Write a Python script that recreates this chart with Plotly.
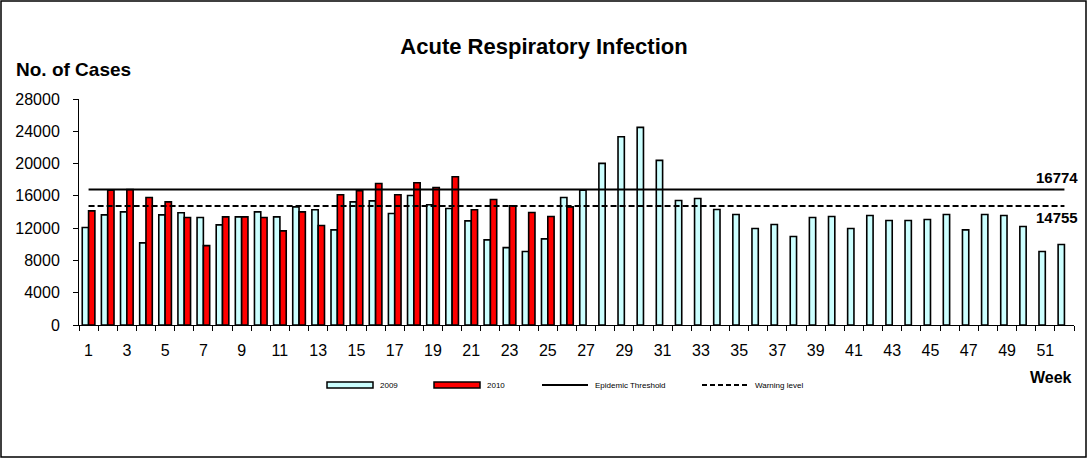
import plotly.graph_objects as go

weeks = list(range(1, 53))

cases_2009 = [
    12080, 13650, 14020, 10170, 13650, 13900, 13320, 12410, 13400, 14020,
    13400, 14640, 14270, 11790, 15260, 15380, 13810, 16050, 14890, 14430,
    12900, 10550, 9590, 9100, 10670, 15800, 16710, 20020, 23330, 24480,
    20390, 15430, 15670, 14310, 13690, 11950, 12450, 10960, 13320, 13440,
    11950, 13560, 12940, 12940, 13070, 13690, 11790, 13690, 13560, 12200,
    9100, 9970,
]

cases_2010 = [
    14140, 16710, 16790, 15800, 15260, 13320, 9840, 13400, 13400, 13320,
    11660, 14020, 12320, 16130, 16630, 17540, 16130, 17620, 17040, 18360,
    14270, 15550, 14760, 13940, 13440, 14640,
]

epidemic_threshold = 16774
warning_level = 14755

y_ticks = [0, 4000, 8000, 12000, 16000, 20000, 24000, 28000]
x_ticks = weeks[::2]

FONT = "Liberation Sans, Arial, sans-serif"

# plot area in pixels: x 79..1074, y 99..325
L, R, T, B = 79, 1074, 99, 325


def px(x):
    return (x - L) / (R - L)


def py(y):
    return (B - y) / (B - T)


fig = go.Figure()

fig.add_trace(go.Bar(
    x=weeks,
    y=cases_2009,
    name="2009",
    marker=dict(color="#CCFFFF", line=dict(color="black", width=1.6)),
))
fig.add_trace(go.Bar(
    x=weeks,
    y=cases_2010 + [None] * (len(weeks) - len(cases_2010)),
    name="2010",
    marker=dict(color="#FF0000", line=dict(color="black", width=1.6)),
))
fig.add_trace(go.Scatter(
    x=weeks,
    y=[epidemic_threshold] * len(weeks),
    mode="lines",
    name="Epidemic Threshold",
    line=dict(color="black", width=2),
))
fig.add_trace(go.Scatter(
    x=weeks,
    y=[warning_level] * len(weeks),
    mode="lines",
    name="Warning level",
    line=dict(color="black", width=2, dash="6px,3px"),
))

# legend drawn by hand, Excel style (wide swatches)
legend_items = [
    ("2009", "bar", "#CCFFFF", 327),
    ("2010", "bar", "#FF0000", 434),
    ("Epidemic Threshold", "solid", None, 542),
    ("Warning level", "dash", None, 702),
]
legend_y = 385
shapes = []
annotations = []
for label, kind, color, x0 in legend_items:
    if kind == "bar":
        shapes.append(dict(
            type="rect", xref="paper", yref="paper",
            x0=px(x0), x1=px(x0 + 46),
            y0=py(legend_y + 3), y1=py(legend_y - 3),
            line=dict(color="black", width=1.5), fillcolor=color,
        ))
    else:
        shapes.append(dict(
            type="line", xref="paper", yref="paper",
            x0=px(x0), x1=px(x0 + 46),
            y0=py(legend_y), y1=py(legend_y),
            line=dict(color="black", width=2,
                      dash="solid" if kind == "solid" else "5px,3px"),
        ))
    annotations.append(dict(
        text=label, xref="paper", yref="paper",
        x=px(x0 + 51), y=py(legend_y),
        xanchor="left", yanchor="middle",
        showarrow=False, font=dict(size=8),
    ))

shapes.append(dict(
    type="rect", xref="paper", yref="paper",
    x0=px(1), x1=px(1086), y0=py(457), y1=py(1),
    line=dict(color="black", width=1.5),
    fillcolor="rgba(0,0,0,0)",
))

annotations += [
    dict(
        text="<b>No. of Cases</b>",
        xref="paper", yref="paper",
        x=px(14), y=py(70),
        xanchor="left", yanchor="middle",
        showarrow=False, font=dict(size=19),
    ),
    dict(
        text="<b>Week</b>",
        xref="paper", yref="paper",
        x=1.0, y=py(377),
        xanchor="right", yanchor="middle",
        showarrow=False, font=dict(size=16),
    ),
    dict(
        text="<b>%d</b>" % epidemic_threshold,
        xref="paper", yref="y",
        x=1.0, y=epidemic_threshold,
        xanchor="right", yanchor="middle", xshift=6, yshift=12,
        showarrow=False, font=dict(size=15),
    ),
    dict(
        text="<b>%d</b>" % warning_level,
        xref="paper", yref="y",
        x=1.0, y=warning_level,
        xanchor="right", yanchor="middle", xshift=6, yshift=-12,
        showarrow=False, font=dict(size=15),
    ),
]

fig.update_layout(
    width=1088,
    height=459,
    margin=dict(l=L, r=1088 - R, t=T, b=459 - B),
    paper_bgcolor="white",
    plot_bgcolor="white",
    font=dict(family=FONT, color="black"),
    barmode="group",
    bargap=0.34,
    bargroupgap=0,
    title=dict(
        text="<b>Acute Respiratory Infection</b>",
        x=0.5, xanchor="center",
        y=1 - 46 / 459, yanchor="middle",
        font=dict(size=22, family=FONT),
    ),
    showlegend=False,
    xaxis=dict(
        range=[0.5, 52.5],
        tickmode="array",
        tickvals=x_ticks,
        ticks="",
        ticklabelstandoff=11,
        showline=True,
        linecolor="black",
        linewidth=1,
        showgrid=False,
        zeroline=False,
        tickfont=dict(size=16),
        minor=dict(
            tickmode="array",
            tickvals=[w - 0.5 for w in weeks] + [weeks[-1] + 0.5],
            ticks="outside",
            ticklen=5,
            tickcolor="black",
            showgrid=False,
        ),
    ),
    yaxis=dict(
        range=[0, 28000],
        tickmode="array",
        tickvals=y_ticks,
        tickformat="d",
        ticks="outside",
        ticklen=5,
        tickcolor="black",
        ticklabelstandoff=10,
        showline=True,
        linecolor="black",
        linewidth=1,
        showgrid=False,
        zeroline=False,
        tickfont=dict(size=16),
    ),
    annotations=annotations,
    shapes=shapes,
)

fig.write_html(
    "out.html",
    config={"displayModeBar": False},
    post_script="document.body.style.margin='0px';",
)
